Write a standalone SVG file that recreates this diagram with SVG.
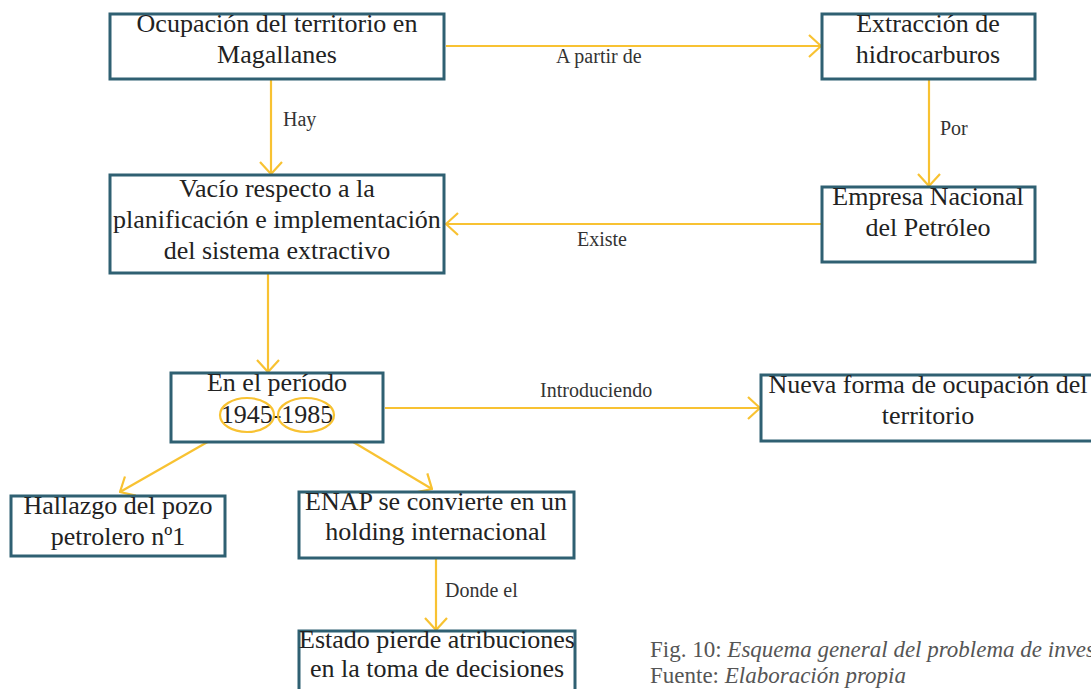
<svg xmlns="http://www.w3.org/2000/svg" width="1091" height="689" viewBox="0 0 1091 689">
<defs>
<style>
.box{fill:#fff;stroke:#2f6072;stroke-width:3}
.t{font-family:"Liberation Serif",serif;font-size:26px;fill:#222;text-anchor:middle}
.lbl{font-family:"Liberation Serif",serif;font-size:20px;fill:#333}
.c{stroke:#f8c232;stroke-width:2.2;fill:none}
.cap{font-family:"Liberation Serif",serif;font-size:23px;fill:#555}
</style>
<marker id="ah" viewBox="0 0 14 24" refX="13" refY="12" markerWidth="14" markerHeight="24" markerUnits="userSpaceOnUse" orient="auto">
<path d="M1,1 L13,12 L1,23" fill="none" stroke="#f8c232" stroke-width="2.2"/>
</marker>
</defs>
<rect width="1091" height="689" fill="#fff"/>
<g id="connectors">
<line class="c" x1="446" y1="46" x2="821" y2="46" marker-end="url(#ah)"/>
<line class="c" x1="271" y1="80" x2="271" y2="174" marker-end="url(#ah)"/>
<line class="c" x1="929" y1="80" x2="929" y2="186" marker-end="url(#ah)"/>
<line class="c" x1="821" y1="224" x2="446" y2="224" marker-end="url(#ah)"/>
<line class="c" x1="268" y1="274" x2="268" y2="372" marker-end="url(#ah)"/>
<line class="c" x1="385" y1="408" x2="760" y2="408" marker-end="url(#ah)"/>
<line class="c" x1="232" y1="428" x2="120" y2="492" marker-end="url(#ah)"/>
<line class="c" x1="328" y1="427" x2="432" y2="489" marker-end="url(#ah)"/>
<line class="c" x1="436" y1="559" x2="436" y2="630" marker-end="url(#ah)"/>
<text class="lbl" x="556" y="63">A partir de</text>
<text class="lbl" x="283" y="126">Hay</text>
<text class="lbl" x="940" y="135">Por</text>
<text class="lbl" x="577" y="246">Existe</text>
<text class="lbl" x="540" y="397">Introduciendo</text>
<text class="lbl" x="445" y="597">Donde el</text>
</g>
<g id="n1"><rect class="box" x="110" y="14" width="334" height="65"/>
<text class="t" x="277" y="32">Ocupación del territorio en</text>
<text class="t" x="277" y="63">Magallanes</text></g>
<g id="n2"><rect class="box" x="822" y="14" width="213" height="65"/>
<text class="t" x="928" y="32">Extracción de</text>
<text class="t" x="928" y="63">hidrocarburos</text></g>
<g id="n3"><rect class="box" x="110" y="175" width="334" height="98"/>
<text class="t" x="277" y="197">Vacío respecto a la</text>
<text class="t" x="277" y="228">planificación e implementación</text>
<text class="t" x="277" y="259">del sistema extractivo</text></g>
<g id="n4"><rect class="box" x="822" y="187" width="213" height="75"/>
<text class="t" x="928" y="205">Empresa Nacional</text>
<text class="t" x="928" y="236">del Petróleo</text></g>
<g id="n5"><rect class="box" x="171" y="373" width="212" height="69"/>
<text class="t" x="277" y="391">En el período</text>
<text class="t" x="277" y="423">1945-1985</text>
<ellipse cx="247" cy="415" rx="27" ry="17" class="c"/>
<ellipse cx="306" cy="415" rx="28" ry="17" class="c"/></g>
<g id="n6"><rect class="box" x="761" y="375" width="340" height="66"/>
<text class="t" x="928" y="393">Nueva forma de ocupación del</text>
<text class="t" x="928" y="424">territorio</text></g>
<g id="n7"><rect class="box" x="11" y="496" width="214" height="60"/>
<text class="t" x="118" y="514">Hallazgo del pozo</text>
<text class="t" x="118" y="545">petrolero nº1</text></g>
<g id="n8"><rect class="box" x="299" y="492" width="275" height="66"/>
<text class="t" x="436" y="510">ENAP se convierte en un</text>
<text class="t" x="436" y="540">holding internacional</text></g>
<g id="n9"><rect class="box" x="299" y="631" width="276" height="70"/>
<text class="t" x="437" y="648">Estado pierde atribuciones</text>
<text class="t" x="437" y="677">en la toma de decisiones</text></g>
<g id="caption">
<text class="cap" x="650" y="657">Fig. 10: <tspan font-style="italic">Esquema general del problema de investigación</tspan></text>
<text class="cap" x="650" y="683">Fuente: <tspan font-style="italic">Elaboración propia</tspan></text>
</g>
</svg>
